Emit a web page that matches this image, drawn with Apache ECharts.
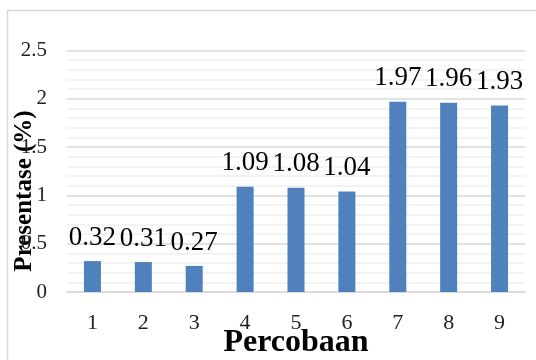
<!DOCTYPE html>
<html>
<head>
<meta charset="utf-8">
<script src="https://cdn.jsdelivr.net/npm/echarts@6/dist/echarts.min.js"></script>
<style>
  html, body { margin: 0; padding: 0; background: #fff; }
  #chart { width: 536px; height: 360px; }
</style>
</head>
<body>
<div id="chart"></div>
<script>
// data
var percobaan = ['1', '2', '3', '4', '5', '6', '7', '8', '9'];
var presentase = [0.32, 0.31, 0.27, 1.09, 1.08, 1.04, 1.97, 1.96, 1.93];

var chart = echarts.init(document.getElementById('chart'));

var serif = '"Liberation Serif", "Times New Roman", serif';

var option = {
    animation: false,
    backgroundColor: '#fff',
    grid: {
        left: 67,
        right: 11,
        top: 50.5,
        bottom: 68,
        containLabel: false,
        outerBoundsMode: 'none'
    },
    xAxis: {
        type: 'category',
        data: percobaan,
        name: 'Percobaan',
        nameLocation: 'middle',
        nameGap: 35,
        nameMoveOverlap: false,
        nameTextStyle: {
            fontFamily: serif,
            fontSize: 32,
            fontWeight: 'bold',
            color: '#000'
        },
        axisLine: { lineStyle: { color: '#d9d9d9', width: 1.5 } },
        axisTick: { show: false },
        axisLabel: {
            margin: 20,
            fontFamily: serif,
            fontSize: 22,
            color: '#222'
        }
    },
    yAxis: {
        type: 'value',
        min: 0,
        max: 2.5,
        interval: 0.5,
        axisLine: { show: false },
        axisTick: { show: false },
        axisLabel: {
            margin: 20,
            fontFamily: serif,
            fontSize: 21,
            color: '#222'
        },
        splitLine: { lineStyle: { color: '#d9d9d9', width: 1.5 } },
        minorTick: { show: false, splitNumber: 5 },
        minorSplitLine: { show: true, lineStyle: { color: '#efefef', width: 1.5 } }
    },
    graphic: [
        {
            type: 'rect',
            shape: { x: 7.5, y: 10.5, width: 600, height: 400 },
            style: { fill: 'none', stroke: '#d9d9d9', lineWidth: 1.5 },
            silent: true
        },
        {
            type: 'text',
            x: 25,
            y: 191,
            rotation: Math.PI / 2,
            style: {
                text: 'Presentase (%)',
                font: 'bold 25px ' + serif,
                fill: '#000',
                textAlign: 'center',
                textVerticalAlign: 'middle'
            }
        }
    ],
    series: [
        {
            type: 'bar',
            data: presentase,
            barWidth: 17,
            itemStyle: { color: '#4f81bd' },
            label: {
                show: true,
                position: 'top',
                distance: 10,
                fontFamily: serif,
                fontSize: 27,
                color: '#000'
            }
        }
    ]
};

chart.setOption(option);
</script>
</body>
</html>
